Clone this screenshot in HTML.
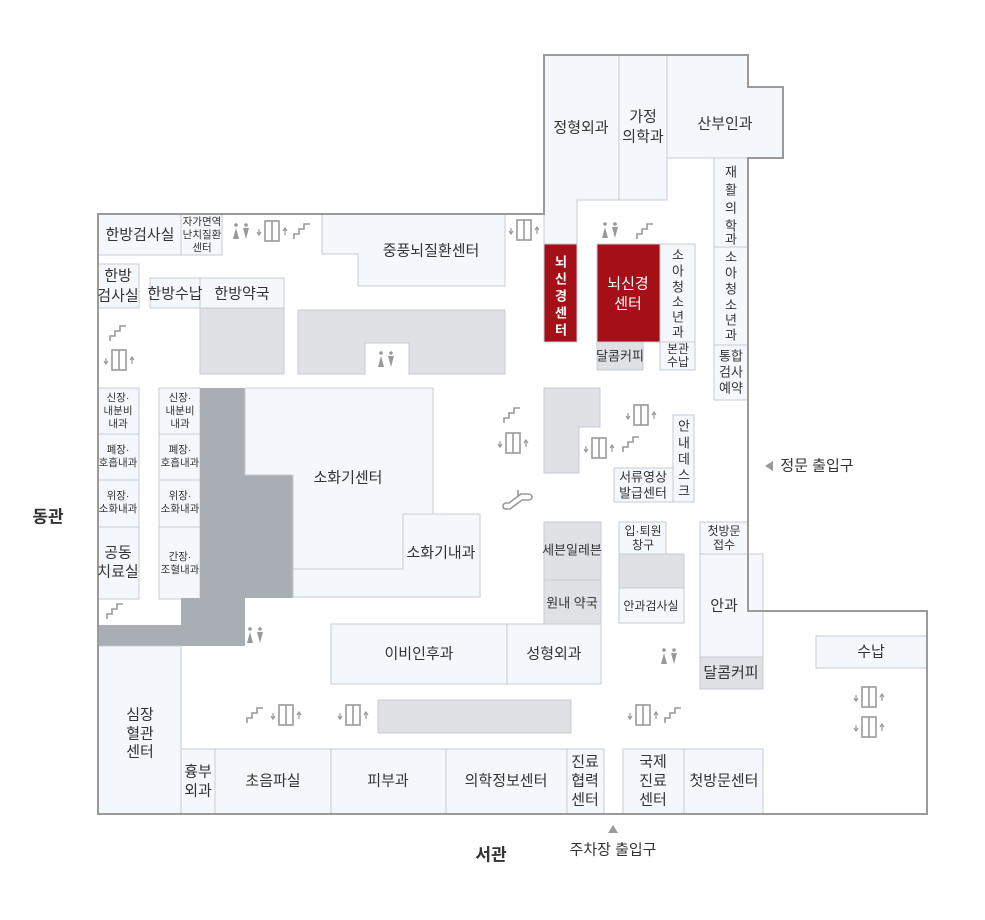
<!DOCTYPE html>
<html><head><meta charset="utf-8"><style>
html,body{margin:0;padding:0;background:#fff}
svg text{font-family:"Liberation Sans","Noto Sans CJK KR",sans-serif;fill:#333;text-anchor:middle;dominant-baseline:central}
.r{fill:#f4f8fc;stroke:#c5cbd3;stroke-width:1}
.g{fill:#dfe1e4;stroke:#c5cbd3;stroke-width:1}
.d{fill:#a9aeb4}
.red{fill:#a50f17;stroke:#c5cbd3;stroke-width:1}
.m{font-size:15px}.s{font-size:12px}.v{font-size:13px}
</style></head><body>
<svg width="985" height="915" viewBox="0 0 985 915" xmlns="http://www.w3.org/2000/svg">
<defs>
<g id="el"><rect x="-7" y="-10" width="14" height="20" fill="#fff" stroke="#999" stroke-width="1.6"/><line x1="0" y1="-10" x2="0" y2="10" stroke="#999" stroke-width="1.6"/><path d="M-13,-2v6M-15,1l2,3l2,-3M13,4v-6M11,0l2,-3l2,3" stroke="#999" stroke-width="1.2" fill="none"/></g>
<g id="st"><path d="M-8,8v-5h5v-5h5v-5h6" fill="none" stroke="#999" stroke-width="1.6"/></g>
<g id="wc"><circle cx="-5" cy="-7" r="1.8" fill="#999"/><circle cx="5" cy="-7" r="1.8" fill="#999"/><path d="M-5,-4l-3,11h6z M2,-4h6l-3,11z" fill="#999"/></g>
</defs>
<path d="M98,214H544V55H748V87H783V158H748V611H927V814H98Z" fill="#fff" stroke="#9a9a9a" stroke-width="2"/>
<path class="r" d="M544,55H619V200H577V244H544Z"/>
<rect class="r" x="619" y="55" width="48" height="145"/>
<path class="r" d="M667,55H748V87H783V158H667Z"/>
<rect class="r" x="714" y="158" width="34" height="89"/>
<rect class="r" x="714" y="247" width="34" height="98"/>
<rect class="r" x="714" y="345" width="34" height="55"/>
<rect class="red" x="544" y="244" width="33" height="98"/>
<rect class="red" x="597" y="244" width="63" height="98"/>
<rect class="r" x="660" y="244" width="35" height="98"/>
<rect class="g" x="597" y="342" width="46" height="28"/>
<rect class="r" x="660" y="342" width="35" height="28"/>
<rect class="r" x="98" y="214" width="83" height="41"/>
<rect class="r" x="181" y="214" width="41" height="41"/>
<path class="r" d="M322,214H505V286H358V254H322Z"/>
<rect class="r" x="98" y="264" width="41" height="44"/>
<rect class="r" x="150" y="278" width="50" height="30"/>
<rect class="r" x="200" y="278" width="84" height="30"/>
<rect class="g" x="200" y="308" width="84" height="66"/>
<path class="g" d="M298,310H505V374H409V343H365V374H298Z"/>
<rect class="r" x="98" y="388" width="41" height="46"/>
<rect class="r" x="98" y="434" width="41" height="46"/>
<rect class="r" x="98" y="480" width="41" height="47"/>
<rect class="r" x="98" y="527" width="41" height="72"/>
<rect class="r" x="159" y="388" width="41" height="46"/>
<rect class="r" x="159" y="434" width="41" height="46"/>
<rect class="r" x="159" y="480" width="41" height="47"/>
<rect class="r" x="159" y="527" width="41" height="72"/>
<path class="d" d="M200,388H245V475H293V598H245V646H98V625H181V598H200Z"/>
<path class="r" d="M245,388H433V514H403V569H293V475H245Z"/>
<path class="r" d="M293,569H403V514H480V597H293Z"/>
<rect class="r" x="331" y="624" width="176" height="60"/>
<rect class="r" x="507" y="624" width="94" height="60"/>
<rect class="r" x="98" y="646" width="83" height="168"/>
<rect class="g" x="378" y="700" width="193" height="33"/>
<rect class="r" x="181" y="749" width="34" height="65"/>
<rect class="r" x="215" y="749" width="116" height="65"/>
<rect class="r" x="331" y="749" width="115" height="65"/>
<rect class="r" x="446" y="749" width="121" height="65"/>
<rect class="r" x="567" y="749" width="37" height="65"/>
<rect class="r" x="623" y="749" width="61" height="65"/>
<rect class="r" x="684" y="749" width="79" height="65"/>
<path class="g" d="M544,388H600V427H579V473H544Z"/>
<rect class="r" x="673" y="415" width="21" height="87"/>
<rect class="r" x="614" y="468" width="59" height="34"/>
<rect class="g" x="544" y="522" width="57" height="58"/>
<rect class="g" x="544" y="580" width="57" height="44"/>
<rect class="r" x="619" y="522" width="47" height="32"/>
<rect class="g" x="619" y="554" width="65" height="34"/>
<rect class="r" x="619" y="588" width="65" height="35"/>
<rect class="r" x="700" y="522" width="48" height="32"/>
<rect class="r" x="700" y="554" width="63" height="103"/>
<rect class="g" x="700" y="657" width="63" height="32"/>
<rect class="r" x="816" y="636" width="111" height="32"/>
<path d="M98,214H544V55H748V87H783V158H748V611H927V814H98Z" fill="none" stroke="#9a9a9a" stroke-width="2"/>
<text class="m" x="581" y="128">정형외과</text>
<text class="m" x="643" y="117">가정</text><text class="m" x="643" y="137">의학과</text>
<text class="m" x="725" y="124">산부인과</text>
<g class="v"><text x="731" y="172">재</text><text x="731" y="190">활</text><text x="731" y="208">의</text><text x="731" y="226">학</text><text x="731" y="239">과</text></g>
<g class="v"><text x="731" y="257">소</text><text x="731" y="273">아</text><text x="731" y="289">청</text><text x="731" y="305">소</text><text x="731" y="320">년</text><text x="731" y="335">과</text></g>
<g class="v"><text x="731" y="356">통합</text><text x="731" y="372">검사</text><text x="731" y="388">예약</text></g>
<g class="v"><text x="678" y="255">소</text><text x="678" y="271">아</text><text x="678" y="287">청</text><text x="678" y="302">소</text><text x="678" y="317">년</text><text x="678" y="332">과</text></g>
<g class="s"><text x="678" y="349">본관</text><text x="678" y="362">수납</text></g>
<g class="v" style="font-weight:bold"><text x="561" y="262" style="fill:#fff">뇌</text><text x="561" y="279" style="fill:#fff">신</text><text x="561" y="296" style="fill:#fff">경</text><text x="561" y="313" style="fill:#fff">센</text><text x="561" y="330" style="fill:#fff">터</text></g>
<text class="m" x="628" y="284" style="fill:#fff">뇌신경</text><text class="m" x="628" y="304" style="fill:#fff">센터</text>
<text class="v" x="620" y="356">달콤커피</text>
<text class="m" x="140" y="235">한방검사실</text>
<g style="font-size:10.5px"><text x="202" y="222">자가면역</text><text x="202" y="235">난치질환</text><text x="202" y="248">센터</text></g>
<text class="m" x="431" y="251">중풍뇌질환센터</text>
<text class="m" x="118" y="276">한방</text><text class="m" x="118" y="296">검사실</text>
<text class="m" x="175" y="294">한방수납</text>
<text class="m" x="242" y="294">한방약국</text>
<g style="font-size:10.5px">
<text x="118" y="398">신장·</text><text x="118" y="411">내분비</text><text x="118" y="424">내과</text>
<text x="118" y="450">폐장·</text><text x="118" y="463">호흡내과</text>
<text x="118" y="496">위장·</text><text x="118" y="509">소화내과</text>
<text x="180" y="398">신장·</text><text x="180" y="411">내분비</text><text x="180" y="424">내과</text>
<text x="180" y="450">폐장·</text><text x="180" y="463">호흡내과</text>
<text x="180" y="496">위장·</text><text x="180" y="509">소화내과</text>
<text x="180" y="557">간장·</text><text x="180" y="570">조혈내과</text>
</g>
<text class="m" x="118" y="553">공동</text><text class="m" x="118" y="572">치료실</text>
<text class="m" x="348" y="478">소화기센터</text>
<text class="m" x="441" y="553">소화기내과</text>
<text class="m" x="419" y="654">이비인후과</text>
<text class="m" x="554" y="654">성형외과</text>
<text class="m" x="140" y="715">심장</text><text class="m" x="140" y="734">혈관</text><text class="m" x="140" y="752">센터</text>
<text class="m" x="198" y="772">흉부</text><text class="m" x="198" y="791">외과</text>
<text class="m" x="273" y="781">초음파실</text>
<text class="m" x="388" y="781">피부과</text>
<text class="m" x="506" y="781">의학정보센터</text>
<text class="m" x="585" y="762">진료</text><text class="m" x="585" y="781">협력</text><text class="m" x="585" y="800">센터</text>
<text class="m" x="653" y="762">국제</text><text class="m" x="653" y="781">진료</text><text class="m" x="653" y="800">센터</text>
<text class="m" x="724" y="781">첫방문센터</text>
<g class="v"><text x="684" y="426">안</text><text x="684" y="443">내</text><text x="684" y="459">데</text><text x="684" y="475">스</text><text x="684" y="491">크</text></g>
<text class="v" x="643" y="477">서류영상</text><text class="v" x="643" y="493">발급센터</text>
<text class="v" x="572" y="550">세븐일레븐</text>
<text class="v" x="572" y="603">원내 약국</text>
<text class="s" x="643" y="531">입·퇴원</text><text class="s" x="643" y="545">창구</text>
<text class="s" x="651" y="606">안과검사실</text>
<text class="s" x="724" y="531">첫방문</text><text class="s" x="724" y="545">접수</text>
<text class="m" x="724" y="606">안과</text>
<text class="m" x="731" y="673">달콤커피</text>
<text class="m" x="871" y="652">수납</text>
<text x="48" y="517" style="font-size:17px;font-weight:bold">동관</text>
<text x="491" y="855" style="font-size:17px;font-weight:bold">서관</text>
<text class="m" x="613" y="850">주차장 출입구</text>
<path d="M608,833l5,-8l5,8z" fill="#999"/>
<path d="M773,461v10l-8,-5z" fill="#999"/>
<text class="m" x="817" y="466">정문 출입구</text>
<use href="#wc" x="241" y="232"/><use href="#el" x="272" y="231"/><use href="#st" x="302" y="231"/>
<use href="#el" x="524" y="230"/>
<use href="#wc" x="610" y="231"/><use href="#st" x="645" y="231"/>
<use href="#st" x="118" y="333"/><use href="#el" x="119" y="360"/>
<use href="#wc" x="386" y="360"/>
<use href="#st" x="512" y="415"/><use href="#el" x="513" y="443"/>
<use href="#el" x="641" y="415"/>
<use href="#el" x="599" y="448"/><use href="#st" x="631" y="444"/>
<path d="M506,509h4l12,-9h6c2,0 4,-1 4,-3c0,-2 -2,-3 -4,-3h-7l-12,9h-3c-2,0 -3,2 -3,3c0,2 1,3 3,3z M518,496v-6" fill="none" stroke="#999" stroke-width="1.6"/>
<use href="#st" x="115" y="611"/>
<use href="#wc" x="255" y="636"/>
<use href="#wc" x="669" y="657"/>
<use href="#st" x="255" y="715"/><use href="#el" x="286" y="715"/>
<use href="#el" x="353" y="715"/>
<use href="#el" x="643" y="715"/><use href="#st" x="673" y="715"/>
<use href="#el" x="869" y="697"/><use href="#el" x="869" y="727"/>
</svg>
</body></html>
